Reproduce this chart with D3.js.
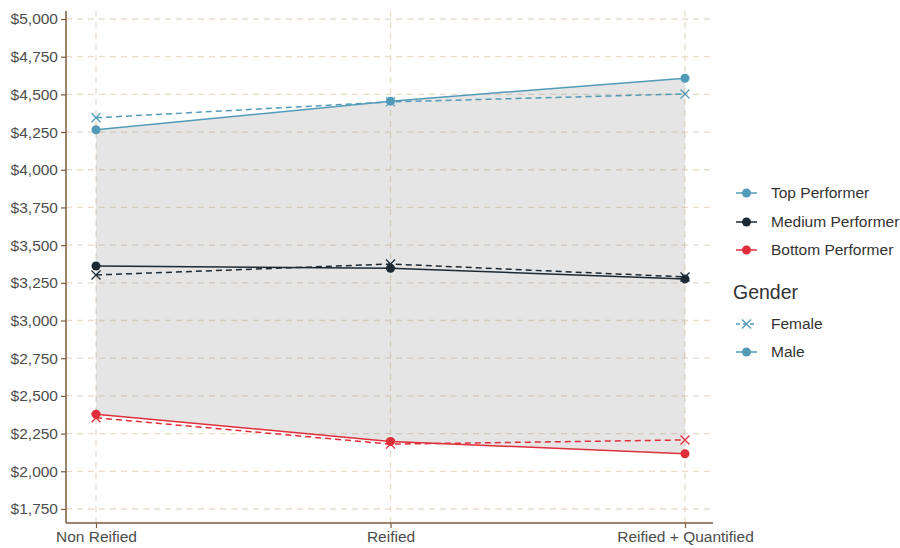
<!DOCTYPE html>
<html><head><meta charset="utf-8">
<script src="https://cdn.jsdelivr.net/npm/d3@7"></script>
<style>body{margin:0;background:#fff;} text{font-family:"Liberation Sans",Arial,Helvetica,sans-serif;}</style>
</head><body><svg id="c" width="900" height="548"></svg>
<script>
const categories = ["Non Reified", "Reified", "Reified + Quantified"];
const performers = ["Top Performer", "Medium Performer", "Bottom Performer"];
const genders = ["Female", "Male"];
const colors = ["#529bb8", "#1c2a35", "#e02f3a"];
const topMale = [4265, 4455, 4607];
const topFemale = [4345, 4450, 4503];
const medMale = [3362, 3347, 3276];
const medFemale = [3302, 3375, 3289];
const botMale = [2379, 2198, 2116];
const botFemale = [2355, 2180, 2208];
const yTicks = [1750, 2000, 2250, 2500, 2750, 3000, 3250, 3500, 3750, 4000, 4250, 4500, 4750, 5000];

const series = [
  {perf: 0, gender: "Male", values: topMale},
  {perf: 0, gender: "Female", values: topFemale},
  {perf: 1, gender: "Male", values: medMale},
  {perf: 1, gender: "Female", values: medFemale},
  {perf: 2, gender: "Male", values: botMale},
  {perf: 2, gender: "Female", values: botFemale}
];

const svg = d3.select("#c");
const L = 66, R = 713, T = 11, B = 523;
const xs = d3.scalePoint().domain(categories).range([96, 685]);
const y = d3.scaleLinear().domain([1657, 5053]).range([B, T]);
const FS = 15.5;

const grid = "#e9dccb";
svg.append("g").selectAll("line").data(yTicks).join("line")
  .attr("x1", L).attr("x2", R).attr("y1", d => y(d)).attr("y2", d => y(d))
  .attr("stroke", grid).attr("stroke-width", 1.3).attr("stroke-dasharray", "6,5");
svg.append("g").selectAll("line").data(categories).join("line")
  .attr("x1", d => xs(d)).attr("x2", d => xs(d)).attr("y1", T).attr("y2", B)
  .attr("stroke", grid).attr("stroke-width", 1.3).attr("stroke-dasharray", "6,5");

// ribbon between bottom male and top male
const area = d3.area().x((d, i) => xs(categories[i])).y0((d, i) => y(botMale[i])).y1(d => y(d));
svg.append("path").datum(topMale).attr("d", area).attr("fill", "#7f7f7f").attr("fill-opacity", 0.2);

const line = d3.line().x((d, i) => xs(categories[i])).y(d => y(d));
series.forEach(s => {
  svg.append("path").datum(s.values).attr("d", line).attr("fill", "none")
    .attr("stroke", colors[s.perf]).attr("stroke-width", 1.5)
    .attr("stroke-dasharray", s.gender === "Female" ? "6,4" : null);
});
series.forEach(s => {
  const g = svg.append("g");
  s.values.forEach((v, i) => {
    const cx = xs(categories[i]), cy = y(v);
    if (s.gender === "Male") {
      g.append("circle").attr("cx", cx).attr("cy", cy).attr("r", 4.5).attr("fill", colors[s.perf]);
    } else {
      const r = 4.5;
      g.append("path").attr("d", `M${cx-r},${cy-r}L${cx+r},${cy+r}M${cx-r},${cy+r}L${cx+r},${cy-r}`)
        .attr("stroke", colors[s.perf]).attr("stroke-width", 1.3).attr("fill", "none");
    }
  });
});

const axisCol = "#7b5d3f";
const yAxis = svg.append("g").attr("transform", `translate(${L},0)`)
  .call(d3.axisLeft(y).tickValues(yTicks).tickSize(5).tickPadding(3).tickFormat(d => "$" + d3.format(",")(d)));
yAxis.select(".domain").attr("d", `M0,${T}V${B}`).attr("stroke", axisCol).attr("stroke-width", 1.5);
yAxis.selectAll(".tick line").attr("stroke", axisCol).attr("stroke-width", 1.2);
yAxis.selectAll(".tick text").attr("fill", "#4d4d4d").attr("font-size", FS).style("font-family", "'Liberation Sans',Arial,sans-serif");

const xAxis = svg.append("g").attr("transform", `translate(0,${B})`)
  .call(d3.axisBottom(xs).tickSize(5).tickPadding(3));
xAxis.select(".domain").attr("d", `M${L},0H${R}`).attr("stroke", axisCol).attr("stroke-width", 1.5);
xAxis.selectAll(".tick line").attr("stroke", axisCol).attr("stroke-width", 1.2);
xAxis.selectAll(".tick text").attr("fill", "#4d4d4d").attr("font-size", FS).style("font-family", "'Liberation Sans',Arial,sans-serif");

const leg = svg.append("g");
const ly = [193, 222, 250];
performers.forEach((p, i) => {
  leg.append("line").attr("x1", 736).attr("x2", 757).attr("y1", ly[i]).attr("y2", ly[i]).attr("stroke", colors[i]).attr("stroke-width", 1.5);
  leg.append("circle").attr("cx", 746.5).attr("cy", ly[i]).attr("r", 4.5).attr("fill", colors[i]);
  leg.append("text").attr("x", 771).attr("y", ly[i]).attr("dy", "0.35em").attr("font-size", FS).attr("fill", "#333").text(p);
});
leg.append("text").attr("x", 733).attr("y", 292).attr("dy", "0.35em").attr("font-size", 19.5).attr("fill", "#333").text("Gender");
const gy = [324, 352];
genders.forEach((g, i) => {
  const cy = gy[i];
  leg.append("line").attr("x1", 736).attr("x2", 757).attr("y1", cy).attr("y2", cy).attr("stroke", colors[0]).attr("stroke-width", 1.5)
    .attr("stroke-dasharray", g === "Female" ? "4,3" : null);
  if (g === "Male") leg.append("circle").attr("cx", 746.5).attr("cy", cy).attr("r", 4.5).attr("fill", colors[0]);
  else { const r = 4.5, cx = 746.5;
    leg.append("path").attr("d", `M${cx-r},${cy-r}L${cx+r},${cy+r}M${cx-r},${cy+r}L${cx+r},${cy-r}`).attr("stroke", colors[0]).attr("stroke-width", 1.3); }
  leg.append("text").attr("x", 771).attr("y", cy).attr("dy", "0.35em").attr("font-size", FS).attr("fill", "#333").text(g);
});
</script></body></html>
